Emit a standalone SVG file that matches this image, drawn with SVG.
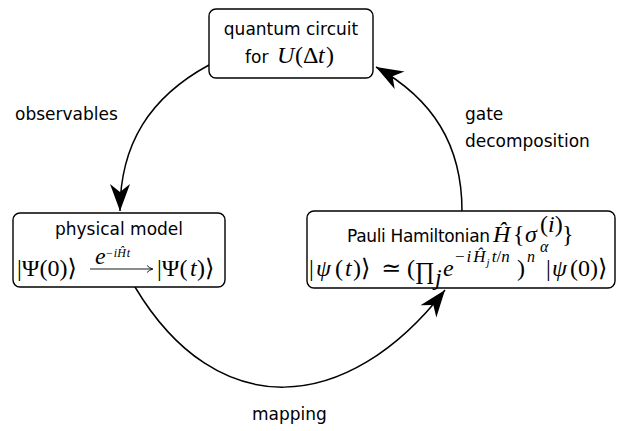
<svg xmlns="http://www.w3.org/2000/svg" width="618" height="431" viewBox="0 0 618 431">
<style>
.box{fill:#fff;stroke:#000;stroke-width:1.4}
.sans{font-family:"DejaVu Sans",sans-serif;font-size:17px;fill:#000}
.m{font-family:"Liberation Serif","DejaVu Serif","DejaVu Sans",serif;font-size:24px;fill:#000}
.it{font-style:italic}
.s17{font-size:17px}
.s16{font-size:16px}
.s12{font-size:12px}
.s11{font-size:11px}
.conn{fill:none;stroke:#000;stroke-width:1.5}
</style>
<defs>
<marker id="ah" viewBox="-28 -11 30 22" markerWidth="30" markerHeight="22" refX="0" refY="0" orient="auto" markerUnits="userSpaceOnUse">
<path d="M0,0 L-27,-10 L-19,0 L-27,10 Z" fill="#000"/>
</marker>
</defs>
<rect width="618" height="431" fill="#fff"/>
<g id="connectors">
<path class="conn" d="M209,65 C150,97 120,144 120,211" marker-end="url(#ah)"/>
<path class="conn" d="M135,287 C217,424 347,416 445,290" marker-end="url(#ah)"/>
<path class="conn" d="M462,211 C462,145 433,99 376,67" marker-end="url(#ah)"/>
<text class="sans" x="15" y="120">observables</text>
<text class="sans" x="465" y="120">gate</text>
<text class="sans" x="465" y="147">decomposition</text>
<text class="sans" x="252" y="420">mapping</text>
</g>
<g id="node-circuit">
<rect class="box" x="209" y="9" width="164" height="69" rx="7"/>
<text class="sans" x="291" y="35" text-anchor="middle">quantum circuit</text>
<text class="sans" x="245" y="63">for</text>
<text class="m it" x="277" y="63">U</text>
<text class="m" x="295" y="63">(Δ</text>
<text class="m it" x="318" y="63">t</text>
<text class="m" x="326" y="63">)</text>
</g>
<g id="node-physical">
<rect class="box" x="13" y="213" width="212" height="74" rx="7"/>
<text class="sans" x="119" y="235" text-anchor="middle">physical model</text>
<text class="m" x="17" y="276">|Ψ(0)⟩</text>
<text class="m it" x="95" y="264" font-size="14">e</text>
<text class="m s12" x="106" y="257">−<tspan class="it" dx="1">i</tspan><tspan class="it">H&#x302;</tspan><tspan class="it" dx="1">t</tspan></text>
<path d="M90,269 H152" fill="none" stroke="#000" stroke-width="0.9"/>
<path d="M147,265.5 Q149,268 153,269 Q149,270 147,272.5" fill="none" stroke="#000" stroke-width="0.9"/>
<text class="m" x="157" y="276">|Ψ(</text>
<text class="m it" x="190" y="276">t</text>
<text class="m" x="197" y="276">)⟩</text>
</g>
<g id="node-pauli">
<rect class="box" x="307" y="211" width="308" height="77" rx="7"/>
<text class="sans" x="347" y="242" font-size="16" textLength="143">Pauli Hamiltonian</text>
<text class="m it" x="493" y="242">H&#x302;</text>
<text class="m" x="513" y="242">{</text>
<text class="m it" x="525" y="242">σ</text>
<text class="m" x="540" y="232" font-size="14">(<tspan class="it">i</tspan>)</text>
<text class="m it s16" x="540" y="252">α</text>
<text class="m" x="562" y="242">}</text>
<text class="m" x="309" y="276">|</text>
<text class="m it" x="316" y="276">ψ</text>
<text class="m" x="335" y="276">(</text>
<text class="m it" x="345" y="276">t</text>
<text class="m" x="353" y="276">)⟩</text>
<text class="m" x="381" y="276">≃</text>
<text class="m" x="407" y="276">(</text>
<text class="m" x="415" y="279">∏</text>
<text class="m it" x="435" y="285" font-size="15">j</text>
<text class="m it" x="443" y="276">e</text>
<text class="m s17" x="455" y="262">−<tspan class="it" dx="2">i</tspan><tspan class="it" dx="2">H&#x302;</tspan><tspan class="it s11" dy="4" dx="1">j</tspan><tspan class="it" dy="-4" dx="2">t</tspan>/<tspan class="it">n</tspan></text>
<text class="m" x="517" y="276">)</text>
<text class="m it s16" x="527" y="262">n</text>
<text class="m" x="546" y="276">|</text>
<text class="m it" x="552" y="276">ψ</text>
<text class="m" x="570" y="276">(0)⟩</text>
</g>
</svg>
